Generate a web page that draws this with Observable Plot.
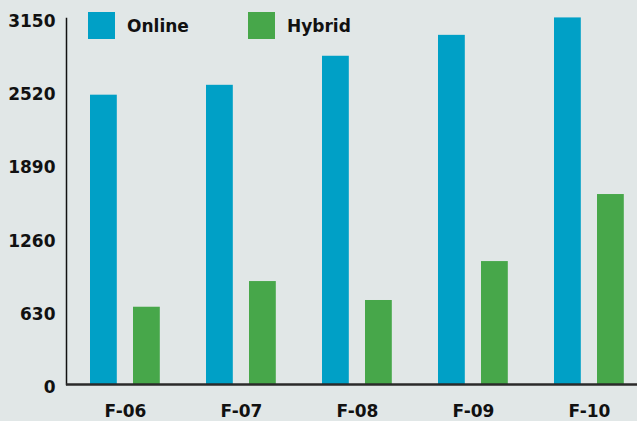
<!DOCTYPE html>
<html>
<head>
<meta charset="utf-8">
<script src="https://cdn.jsdelivr.net/npm/d3@7"></script>
<script src="https://cdn.jsdelivr.net/npm/@observablehq/plot@0.6"></script>
<style>
  html, body { margin: 0; padding: 0; background: #e1e7e7; }
  #wrap { position: relative; width: 637px; height: 421px; overflow: hidden; font-family: "DejaVu Sans", sans-serif; }
  .leg { position: absolute; top: 12px; display: flex; align-items: center; font-weight: 700; font-size: 17px; color: #111; }
  .sw { width: 27px; height: 27px; margin-right: 12px; }
</style>
</head>
<body>
<div id="wrap"></div>
<script>
const categories = ["F-06", "F-07", "F-08", "F-09", "F-10"];
const online = [2490, 2575, 2825, 3005, 3155];
const hybrid = [665, 886, 723, 1058, 1635];
const yTicks = [0, 630, 1260, 1890, 2520, 3150];
const seriesNames = ["Online", "Hybrid"];
const seriesColors = ["#00a0c6", "#47a74a"];

const onlineRows = categories.map((c, i) => ({cat: c, value: online[i]}));
const hybridRows = categories.map((c, i) => ({cat: c, value: hybrid[i]}));

const chart = Plot.plot({
  width: 637,
  height: 421,
  marginLeft: 66,
  marginRight: 0,
  marginTop: 18,
  marginBottom: 37,
  style: { background: "#e1e7e7", fontFamily: "DejaVu Sans, sans-serif", fontWeight: 700, fontSize: "17px", color: "#111", overflow: "hidden" },
  x: { type: "band", domain: categories, range: [66, 647], padding: 0, label: null },
  y: { domain: [0, 3150], label: null },
  marks: [
    Plot.barY(onlineRows, { x: "cat", y: "value", fill: seriesColors[0], insetLeft: 23, insetRight: 66.2 }),
    Plot.barY(hybridRows, { x: "cat", y: "value", fill: seriesColors[1], insetLeft: 66, insetRight: 23.2 }),
    Plot.frame({ anchor: "left", stroke: "#111", strokeWidth: 1.5 }),
    Plot.ruleY([0], { stroke: "#2a2a2a", strokeWidth: 2.5 }),
    Plot.axisY({ ticks: yTicks, tickFormat: d => String(d), tickSize: 0, tickPadding: 11, fontSize: 17, fontWeight: 700, dy: 3, label: null, fill: "#111" }),
    Plot.axisX({ tickSize: 0, tickPadding: 20, fontSize: 17, fontWeight: 700, label: null, fill: "#111" })
  ]
});

const wrap = document.getElementById("wrap");
wrap.appendChild(chart);

const legX = [88, 248];
seriesNames.forEach((name, i) => {
  const d = document.createElement("div");
  d.className = "leg";
  d.style.left = legX[i] + "px";
  d.innerHTML = `<div class="sw" style="background:${seriesColors[i]}"></div><span>${name}</span>`;
  wrap.appendChild(d);
});
</script>
</body>
</html>
